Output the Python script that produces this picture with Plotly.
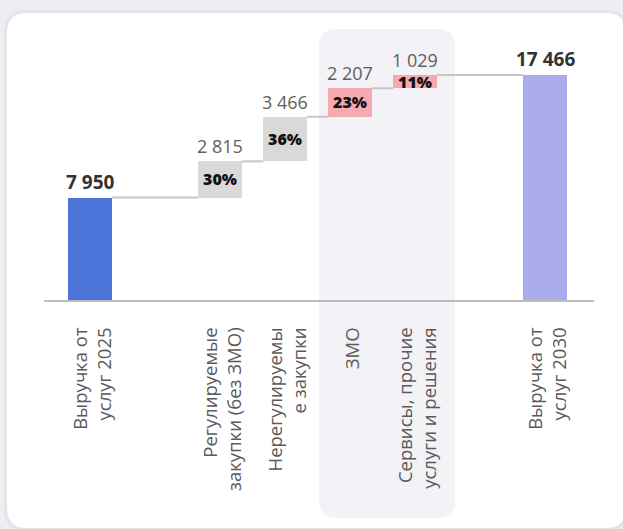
import plotly.graph_objects as go

# --- data -------------------------------------------------------------
categories = [
    "Выручка от<br>услуг 2025",
    "Регулируемые<br>закупки (без ЗМО)",
    "Нерегулируемы<br>е закупки",
    "ЗМО",
    "Сервисы, прочие<br>услуги и решения",
    "Выручка от<br>услуг 2030",
]
values = [7950, 2815, 3466, 2207, 1029, 17466]
kinds = ["total", "delta", "delta", "delta", "delta", "total"]
slots = [0, 2, 3, 4, 5, 7]          # horizontal slot of each column

colors = ["#4a74d8", "#d9d9d9", "#d9d9d9", "#f5a9b1", "#f5a9b1", "#aaabea"]

# --- geometry of the canvas ------------------------------------------
W_FIG, H_FIG = 623, 529
ML, MR, MT, MB = 44, 29, 30, 229
PW, PH = W_FIG - ML - MR, H_FIG - MT - MB
BAR_W = 0.668
FONT = "Open Sans"


def px_to_paper(x, y):
    return (x - ML) / PW, (H_FIG - MB - y) / PH


def rounded_rect(x0, y0, x1, y1, r):
    """SVG path (paper coords) of a rounded rectangle given in pixels."""
    pts = []

    def P(x, y):
        a, b = px_to_paper(x, y)
        return f"{a:.5f},{b:.5f}"

    pts.append(f"M{P(x0 + r, y0)}")
    pts.append(f"L{P(x1 - r, y0)}")
    pts.append(f"Q{P(x1, y0)} {P(x1, y0 + r)}")
    pts.append(f"L{P(x1, y1 - r)}")
    pts.append(f"Q{P(x1, y1)} {P(x1 - r, y1)}")
    pts.append(f"L{P(x0 + r, y1)}")
    pts.append(f"Q{P(x0, y1)} {P(x0, y1 - r)}")
    pts.append(f"L{P(x0, y0 + r)}")
    pts.append(f"Q{P(x0, y0)} {P(x0 + r, y0)}")
    pts.append("Z")
    return " ".join(pts)


# --- floating bar bases ----------------------------------------------
bases, tops = [], []
running = 0
for v, k in zip(values, kinds):
    if k == "total":
        bases.append(0)
        running = v
    else:
        bases.append(running)
        running += v
    tops.append(bases[-1] + v)

growth = sum(v for v, k in zip(values, kinds) if k == "delta")


def fmt(v):
    return f"{v:,}".replace(",", " ")


fig = go.Figure()

# card and highlighted panel
shapes = [
    dict(type="path", xref="paper", yref="paper", layer="below",
         path=rounded_rect(4, 10, 628, 531, 22),
         fillcolor="rgba(200,200,212,0.25)", line=dict(width=0)),
    dict(type="path", xref="paper", yref="paper", layer="below",
         path=rounded_rect(7, 13, 626, 528, 20),
         fillcolor="#ffffff", line=dict(width=0)),
    dict(type="path", xref="paper", yref="paper", layer="below",
         path=rounded_rect(319, 29, 455, 518, 18),
         fillcolor="#f2f2f7", line=dict(width=0)),
]

fig.add_trace(go.Bar(
    x=slots, y=values, base=bases, width=BAR_W,
    marker=dict(color=colors, line=dict(width=0)),
    hoverinfo="skip", showlegend=False,
))

# connector lines between consecutive columns
cx, cy = [], []
for i in range(len(values) - 1):
    level = tops[i]
    cx += [slots[i] + BAR_W / 2, slots[i + 1] - BAR_W / 2, None]
    cy += [level, level, None]
fig.add_trace(go.Scatter(
    x=cx, y=cy, mode="lines", line=dict(color="#c6c6c6", width=2),
    hoverinfo="skip", showlegend=False,
))

annotations = []
for s, v, b, t, k in zip(slots, values, bases, tops, kinds):
    if k == "total":
        annotations.append(dict(
            x=s, y=t, xref="x", yref="y", text=fmt(v), showarrow=False,
            yanchor="bottom", yshift=1,
            font=dict(family=FONT, size=19, color="#333333", weight=700)))
    else:
        annotations.append(dict(
            x=s, y=t, xref="x", yref="y", text=fmt(v), showarrow=False,
            yanchor="bottom", yshift=1,
            font=dict(family=FONT, size=18, color="#606060")))
        annotations.append(dict(
            x=s, y=b + v / 2, xref="x", yref="y",
            text=f"{round(v / growth * 100)}%", showarrow=False,
            yanchor="middle",
            font=dict(family=FONT, size=16, color="#111111", weight=800)))

fig.update_layout(
    width=W_FIG, height=H_FIG,
    margin=dict(l=ML, r=MR, t=MT, b=MB, autoexpand=False),
    paper_bgcolor="#eeeef2", plot_bgcolor="rgba(0,0,0,0)",
    shapes=shapes, annotations=annotations,
    bargap=0, showlegend=False,
)
fig.update_xaxes(
    range=[(ML - 90) / 65, (W_FIG - MR - 90) / 65],
    tickvals=slots, ticktext=categories, tickangle=-90,
    tickfont=dict(family=FONT, size=18.5, color="#5a5a5a"),
    showgrid=False, zeroline=False, showline=True,
    linecolor="#bdbdbd", linewidth=2, ticks="", ticklabelstandoff=18,
    ticklabelshift=3, automargin=False,
)
fig.update_yaxes(
    range=[0, PH / 0.01288], visible=False, showgrid=False, zeroline=False,
)

fig.write_html("out.html")
